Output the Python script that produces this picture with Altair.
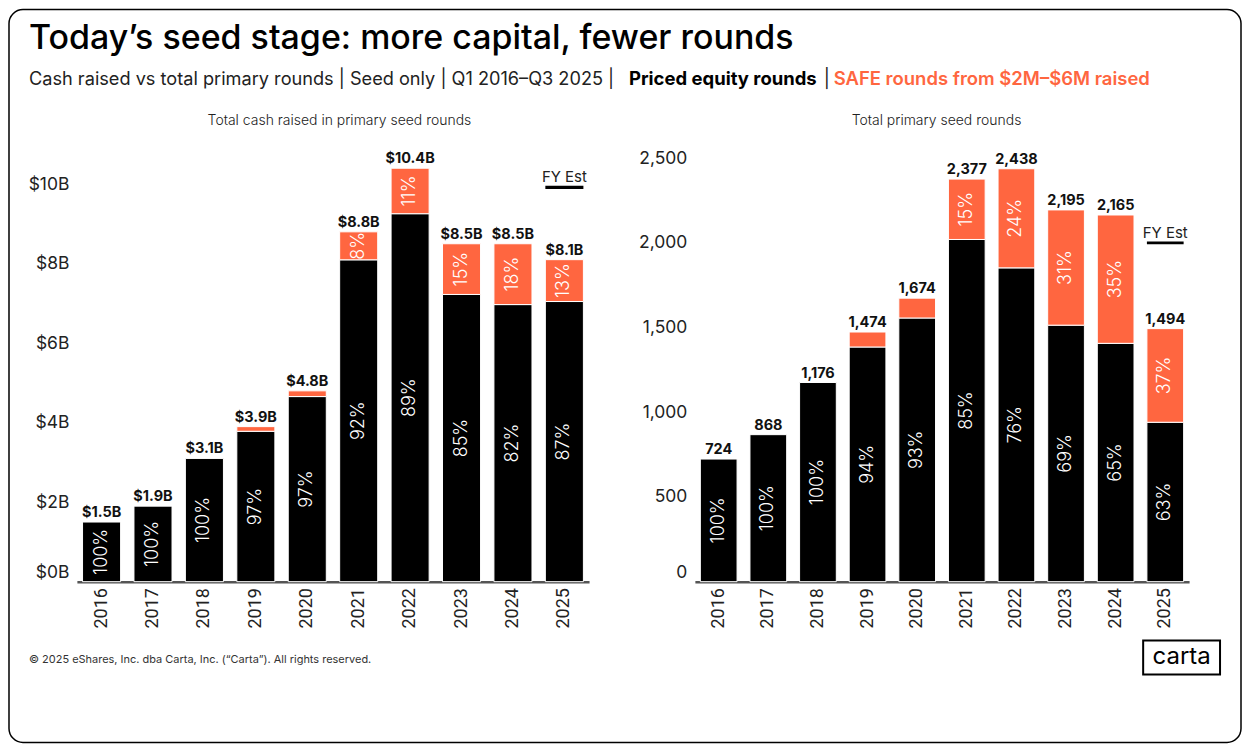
import altair as alt
import pandas as pd

# ---------------- data ----------------
YEARS = ["2016", "2017", "2018", "2019", "2020", "2021", "2022", "2023", "2024", "2025"]
CASH_TOTAL_B = [1.5, 1.9, 3.1, 3.9, 4.8, 8.8, 10.4, 8.5, 8.5, 8.1]
CASH_PRICED_PCT = [100, 100, 100, 97, 97, 92, 89, 85, 82, 87]
ROUNDS_TOTAL = [724, 868, 1176, 1474, 1674, 2377, 2438, 2195, 2165, 1494]
ROUNDS_PRICED_PCT = [100, 100, 100, 94, 93, 85, 76, 69, 65, 63]
CASH_TICKS = [0, 2, 4, 6, 8, 10]
ROUND_TICKS = [0, 500, 1000, 1500, 2000, 2500]
SEGMENTS = ["Priced equity rounds", "SAFE rounds"]
FY_YEAR = "2025"
FY_TEXT = "FY Est"

TITLE = "Today’s seed stage: more capital, fewer rounds"
SUB_1 = "Cash raised vs total primary rounds | Seed only | Q1 2016–Q3 2025 |"
SUB_2 = "Priced equity rounds"
SUB_3 = "|"
SUB_4 = "SAFE rounds from $2M–$6M raised"
PANEL_L = "Total cash raised in primary seed rounds"
PANEL_R = "Total primary seed rounds"
FOOTER = "© 2025 eShares, Inc. dba Carta, Inc. (“Carta”). All rights reserved."
LOGO = "carta"

ORANGE = "#FF6640"
FONT = "Roboto"
HFONT = "Inter"


def long_df(totals, pcts):
    rows = []
    for y, t, p in zip(YEARS, totals, pcts):
        priced = t * p / 100.0
        safe = t - priced
        rows.append(dict(year=y, seg=SEGMENTS[0], ord=0, v=priced, mid=priced / 2.0,
                         pct=p, lab=f"{p}%"))
        rows.append(dict(year=y, seg=SEGMENTS[1], ord=1, v=safe, mid=priced + safe / 2.0,
                         pct=100 - p, lab=f"{100 - p}%"))
    return pd.DataFrame(rows)


def panel(totals, pcts, domain, ticks, label_expr, tot_fmt, fy_text_v, fy_line, width, height):
    df = long_df(totals, pcts)
    tot = pd.DataFrame({"year": YEARS, "v": totals})
    fy = pd.DataFrame({"year": [FY_YEAR], "v": [fy_text_v], "v1": [fy_line[0]], "v2": [fy_line[1]],
                       "t": [FY_TEXT]})

    xaxis = alt.Axis(title=None, labelAngle=270, labelFontSize=18, labelFont=FONT,
                     labelColor="#222222", labelPadding=6, ticks=False, domainColor="#555555",
                     domainWidth=2.5, grid=False)
    xenc = alt.X("year:N", sort=YEARS, scale=alt.Scale(paddingInner=0.26, paddingOuter=0.11),
                 axis=xaxis)
    yaxis = alt.Axis(title=None, values=ticks, labelExpr=label_expr, labelFlush=True,
                     ticks=False, domain=False, grid=False, labelPadding=8, labelFontSize=17.5,
                     labelFont=HFONT, labelColor="#222222")
    yscale = alt.Scale(domain=domain, nice=False, zero=True)

    def yenc(field, stack=None):
        if stack:
            return alt.Y(field, type="quantitative", stack=stack, scale=yscale, axis=yaxis)
        return alt.Y(field, type="quantitative", stack=None, scale=yscale, axis=yaxis)

    bars = alt.Chart(df).transform_filter("datum.v > 0").mark_bar(
        stroke="white", strokeWidth=1
    ).encode(
        x=xenc,
        y=yenc("v", "zero"),
        color=alt.Color("seg:N", scale=alt.Scale(domain=SEGMENTS, range=["#000000", ORANGE]),
                        legend=None),
        order=alt.Order("ord:Q"),
    )
    pct_text = alt.Chart(df).transform_filter("datum.pct >= 8").mark_text(
        angle=270, color="white", fontSize=18, font=HFONT, fontWeight=300,
        align="center", baseline="middle"
    ).encode(x=xenc, y=yenc("mid"), text="lab:N")
    tot_text = alt.Chart(tot).transform_calculate(
        lab=tot_fmt
    ).mark_text(
        fontSize=14.5, fontWeight="bold", font=HFONT, color="#111111", baseline="alphabetic", dy=-5
    ).encode(x=xenc, y=yenc("v"), text="lab:N")
    fy_text = alt.Chart(fy).mark_text(
        fontSize=15, font=HFONT, color="#222222", baseline="alphabetic"
    ).encode(x=xenc, y=yenc("v"), text="t:N")
    fy_bar = alt.Chart(fy).mark_bar(color="#000000").encode(
        x=xenc, y=yenc("v1"), y2="v2:Q"
    )
    return alt.layer(bars, pct_text, tot_text, fy_text, fy_bar).properties(
        width=width, height=height
    )


PH = 438
left = panel(CASH_TOTAL_B, CASH_PRICED_PCT, [0, 11], CASH_TICKS,
             "'$' + datum.value + 'B'", "'$' + format(datum.v, '.1f') + 'B'",
             10.05, (9.88, 9.96), 513, PH)
right = panel(ROUNDS_TOTAL, ROUNDS_PRICED_PCT, [0, 2582], ROUND_TICKS,
              "format(datum.value, ',')", "format(datum.v, ',')",
              2028, (1993, 2008), 495, PH)


def spacer(w):
    return alt.Chart(pd.DataFrame({"k": [0]})).mark_text(text="").encode(
        x=alt.value(0), y=alt.value(0)
    ).properties(width=w, height=PH)


hb = alt.Chart(pd.DataFrame({"k": [0]}))
border = hb.mark_rect(fill="transparent", stroke="#000000", strokeWidth=1.5, cornerRadius=14).encode(
    x=alt.value(0), x2=alt.value(1234), y=alt.value(0), y2=alt.value(734))
title = hb.mark_text(text=TITLE, align="left", baseline="alphabetic", font=HFONT, fontSize=34,
                     fontWeight=500, color="#000000").encode(x=alt.value(20), y=alt.value(39))
s1 = hb.mark_text(text=SUB_1, align="left", baseline="alphabetic", font=HFONT, fontSize=18.2,
                  fontWeight=400, color="#222222").encode(x=alt.value(20), y=alt.value(76))
s2 = hb.mark_text(text=SUB_2, align="left", baseline="alphabetic", font=HFONT, fontSize=18.5,
                  fontWeight=700, color="#000000").encode(x=alt.value(621), y=alt.value(76))
s3 = hb.mark_text(text=SUB_3, align="left", baseline="alphabetic", font=HFONT, fontSize=18.5,
                  fontWeight=400, color="#222222").encode(x=alt.value(816), y=alt.value(76))
s4 = hb.mark_text(text=SUB_4, align="left", baseline="alphabetic", font=HFONT, fontSize=18.5,
                  fontWeight=600, color=ORANGE).encode(x=alt.value(826), y=alt.value(76))
pl = hb.mark_text(text=PANEL_L, align="center", baseline="alphabetic", font=HFONT, fontSize=14,
                  fontWeight=300, color="#222222").encode(x=alt.value(331), y=alt.value(116))
pr = hb.mark_text(text=PANEL_R, align="center", baseline="alphabetic", font=HFONT, fontSize=14,
                  fontWeight=300, color="#222222").encode(x=alt.value(929), y=alt.value(116))
foot = hb.mark_text(text=FOOTER, align="left", baseline="alphabetic", font=HFONT, fontSize=11,
                    color="#333333").encode(x=alt.value(20), y=alt.value(654))
logo_box = hb.mark_rect(fill="white", stroke="#000000", strokeWidth=2).encode(
    x=alt.value(1136), x2=alt.value(1213), y=alt.value(632), y2=alt.value(666))
logo = hb.mark_text(text=LOGO, align="center", baseline="middle", font=HFONT, fontSize=24,
                    fontWeight=400, color="#000000").encode(x=alt.value(1174.5), y=alt.value(648))

header = alt.layer(border, title, s1, s2, s3, s4, pl, pr, foot, logo_box, logo).properties(
    width=1234, height=120)

row = alt.hconcat(spacer(68), left, spacer(106), right, spacing=0, bounds="flush")

chart = alt.vconcat(header, row, spacing=15, bounds="flush").properties(
    padding=0, background="white"
).configure_view(strokeWidth=0)

chart.save("out.html", embed_options={"renderer": "svg", "actions": False})
